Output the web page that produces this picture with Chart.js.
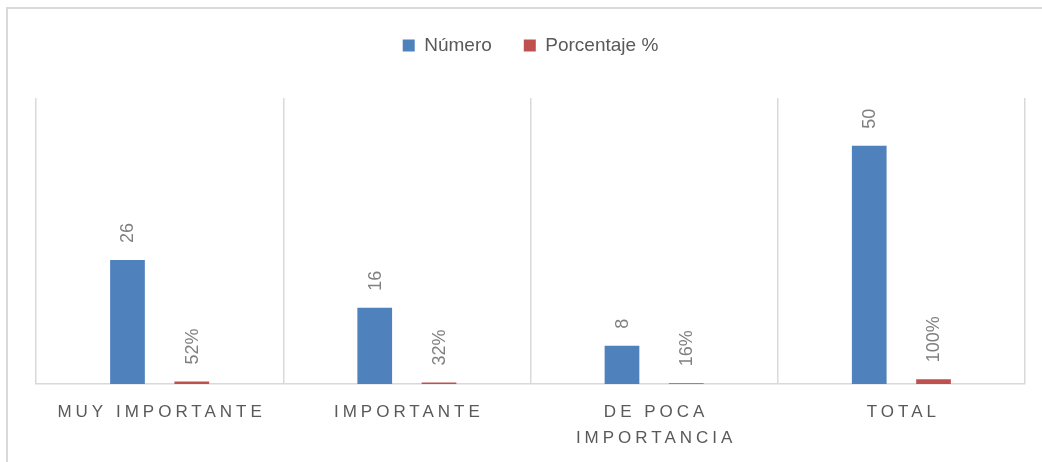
<!DOCTYPE html>
<html>
<head>
<meta charset="utf-8">
<script src="https://cdn.jsdelivr.net/npm/chart.js@4.4.0/dist/chart.umd.min.js"></script>
<style>
  html, body { margin: 0; padding: 0; background: #fff; }
  #wrap { position: relative; width: 1042px; height: 462px; overflow: hidden; }
  #frame { position: absolute; left: 6px; top: 7px; width: 1100px; height: 500px;
           border-top: 2px solid #d9d9d9; border-left: 2px solid #d9d9d9; }
  canvas { position: absolute; left: 0; top: 0; }
</style>
</head>
<body>
<div id="wrap">
  <div id="frame"></div>
  <canvas id="barChart" width="1042" height="462"></canvas>
</div>
<script>
// categories and series
const categories = [['MUY IMPORTANTE'], ['IMPORTANTE'], ['DE POCA', 'IMPORTANCIA'], ['TOTAL']];
const numero = [26, 16, 8, 50];
const porcentaje = [0.52, 0.32, 0.16, 1.00];

const textGray = '#595959';
const labelGray = '#808080';
const fontFamily = "'Liberation Sans', Arial, sans-serif";

// leave a wider gap between the legend and the plot
const legendGap = {
  id: 'legendGap',
  afterInit(chart) {
    const legend = chart.legend;
    const fit = legend.fit;
    legend.fit = function () {
      fit.call(this);
      this.height += 33;
    };
  }
};

// value labels, rotated, just above each bar
const barLabels = {
  id: 'barLabels',
  afterDatasetsDraw(chart) {
    const ctx = chart.ctx;
    ctx.save();
    ctx.font = '18px ' + fontFamily;
    ctx.fillStyle = labelGray;
    ctx.textAlign = 'left';
    ctx.textBaseline = 'middle';
    chart.data.datasets.forEach((ds, di) => {
      const meta = chart.getDatasetMeta(di);
      meta.data.forEach((bar, i) => {
        const v = ds.data[i];
        const txt = di === 0 ? String(v) : Math.round(v * 100) + '%';
        ctx.save();
        ctx.translate(bar.x, bar.y - 17);
        ctx.rotate(-Math.PI / 2);
        ctx.fillText(txt, 0, 1);
        ctx.restore();
      });
    });
    ctx.restore();
  }
};

// spaced-out category names under the axis
const categoryLabels = {
  id: 'categoryLabels',
  afterDraw(chart) {
    const ctx = chart.ctx;
    const xScale = chart.scales.x;
    const spacing = 4;
    ctx.save();
    ctx.font = '17px ' + fontFamily;
    ctx.fillStyle = textGray;
    ctx.letterSpacing = spacing + 'px';
    ctx.textAlign = 'left';
    ctx.textBaseline = 'middle';
    chart.data.labels.forEach((lines, i) => {
      const cx = xScale.getPixelForTick(i);
      lines.forEach((line, j) => {
        const w = ctx.measureText(line).width - spacing;
        ctx.fillText(line, cx - w / 2, 412 + j * 26);
      });
    });
    ctx.restore();
  }
};

const barCtx = document.getElementById('barChart').getContext('2d');
new Chart(barCtx, {
  type: 'bar',
  data: {
    labels: categories,
    datasets: [{
      label: 'Número',
      data: numero,
      backgroundColor: '#4f81bd',
      categoryPercentage: 0.52,
      barPercentage: 0.54
    }, {
      label: 'Porcentaje %',
      data: porcentaje,
      backgroundColor: '#c0504d',
      categoryPercentage: 0.52,
      barPercentage: 0.54
    }]
  },
  options: {
    responsive: false,
    animation: false,
    layout: {
      padding: { top: 4, left: 36, right: 17, bottom: 0 }
    },
    plugins: {
      legend: {
        position: 'top',
        labels: {
          boxWidth: 12,
          boxHeight: 12,
          padding: 32,
          color: textGray,
          font: { size: 19, family: fontFamily }
        }
      },
      tooltip: { enabled: false }
    },
    scales: {
      x: {
        offset: true,
        grid: { offset: true, color: '#d9d9d9', lineWidth: 1.5, drawTicks: false },
        border: { color: '#d9d9d9', width: 1.5 },
        ticks: { display: false },
        afterFit(scale) { scale.height = 78; }
      },
      y: {
        display: false,
        min: 0,
        max: 60
      }
    }
  },
  plugins: [legendGap, barLabels, categoryLabels]
});
</script>
</body>
</html>
